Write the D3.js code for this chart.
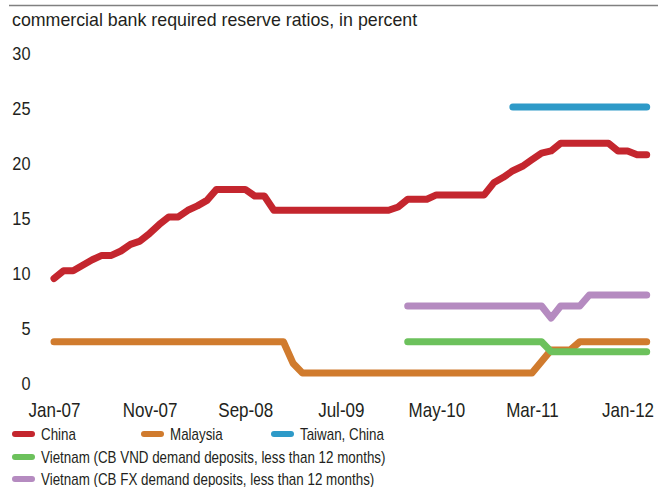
<!DOCTYPE html>
<html>
<head>
<meta charset="utf-8">
<script src="https://cdn.jsdelivr.net/npm/d3@7/dist/d3.min.js"></script>
<style>
  html, body { margin: 0; padding: 0; background: #fff; }
  svg { display: block; }
  .title { font-family: "Liberation Sans", Arial, sans-serif; font-size: 17.8px; fill: #231f20; }
  .narrow { font-family: "Liberation Sans", Arial, sans-serif; fill: #231f20; }
</style>
</head>
<body>
<svg id="chart" width="658" height="487"></svg>
<script>
// Monthly observations, Jan 2007 to Mar 2012
const months = d3.timeMonth.range(new Date(2007, 0, 1), new Date(2012, 3, 1));

const xTickLabels = ["Jan-07", "Nov-07", "Sep-08", "Jul-09", "May-10", "Mar-11", "Jan-12"];
const yTicks = [0, 5, 10, 15, 20, 25, 30];

// Required reserve ratios, percent (null = not in the series)
const china = [
  9.5, 10.2, 10.2, 10.7, 11.2, 11.6, 11.6, 12.0, 12.6, 12.9, 13.6, 14.4,
  15.1, 15.1, 15.7, 16.1, 16.6, 17.6, 17.6, 17.6, 17.6, 17.0, 17.0, 15.7,
  15.7, 15.7, 15.7, 15.7, 15.7, 15.7, 15.7, 15.7, 15.7, 15.7, 15.7, 15.7,
  16.0, 16.7, 16.7, 16.7, 17.1, 17.1, 17.1, 17.1, 17.1, 17.1, 18.2, 18.7,
  19.3, 19.7, 20.3, 20.9, 21.1, 21.8, 21.8, 21.8, 21.8, 21.8, 21.8, 21.1,
  21.1, 20.75, 20.75
];
const malaysia = [
  3.75, 3.75, 3.75, 3.75, 3.75, 3.75, 3.75, 3.75, 3.75, 3.75, 3.75, 3.75,
  3.75, 3.75, 3.75, 3.75, 3.75, 3.75, 3.75, 3.75, 3.75, 3.75, 3.75, 3.75,
  3.75, 1.8, 0.9, 0.9, 0.9, 0.9, 0.9, 0.9, 0.9, 0.9, 0.9, 0.9,
  0.9, 0.9, 0.9, 0.9, 0.9, 0.9, 0.9, 0.9, 0.9, 0.9, 0.9, 0.9,
  0.9, 0.9, 0.9, 1.95, 3.0, 3.0, 3.0, 3.75, 3.75, 3.75, 3.75, 3.75,
  3.75, 3.75, 3.75
];
const taiwan = [
  null, null, null, null, null, null, null, null, null, null, null, null,
  null, null, null, null, null, null, null, null, null, null, null, null,
  null, null, null, null, null, null, null, null, null, null, null, null,
  null, null, null, null, null, null, null, null, null, null, null, null,
  25.1, 25.1, 25.1, 25.1, 25.1, 25.1, 25.1, 25.1, 25.1, 25.1, 25.1, 25.1,
  25.1, 25.1, 25.1
];
const vietnamVND = [
  null, null, null, null, null, null, null, null, null, null, null, null,
  null, null, null, null, null, null, null, null, null, null, null, null,
  null, null, null, null, null, null, null, null, null, null, null, null,
  null, 3.75, 3.75, 3.75, 3.75, 3.75, 3.75, 3.75, 3.75, 3.75, 3.75, 3.75,
  3.75, 3.75, 3.75, 3.75, 2.85, 2.85, 2.85, 2.85, 2.85, 2.85, 2.85, 2.85,
  2.85, 2.85, 2.85
];
const vietnamFX = [
  null, null, null, null, null, null, null, null, null, null, null, null,
  null, null, null, null, null, null, null, null, null, null, null, null,
  null, null, null, null, null, null, null, null, null, null, null, null,
  null, 7.0, 7.0, 7.0, 7.0, 7.0, 7.0, 7.0, 7.0, 7.0, 7.0, 7.0,
  7.0, 7.0, 7.0, 7.0, 5.9, 7.0, 7.0, 7.0, 8.0, 8.0, 8.0, 8.0,
  8.0, 8.0, 8.0
];

const seriesNames = [
  "China", "Malaysia", "Taiwan, China",
  "Vietnam (CB VND demand deposits, less than 12 months)",
  "Vietnam (CB FX demand deposits, less than 12 months)"
];
const seriesColors = ["#c4262e", "#d07b2e", "#2e9ac8", "#6cc15c", "#b58bc0"];
const seriesValues = [china, malaysia, taiwan, vietnamVND, vietnamFX];

const svg = d3.select("#chart");

// Top rule and title
svg.append("line")
  .attr("x1", 9).attr("x2", 658).attr("y1", 5.5).attr("y2", 5.5)
  .attr("stroke", "#808080").attr("stroke-width", 1.5);
svg.append("text").attr("class", "title")
  .attr("x", 12).attr("y", 26)
  .text("commercial bank required reserve ratios, in percent");

// Scales
const x = d3.scaleLinear().domain([0, months.length - 1]).range([54, 646.7]);
const y = d3.scaleLinear().domain([0, 30]).range([383, 53]);

// Condensed lettering: regular sans squeezed horizontally
function condense(sel, size, sx) {
  sel.attr("class", "narrow")
    .attr("font-family", null).attr("fill", null)
    .attr("font-size", size)
    .attr("transform", `scale(${sx},1)`);
}

// Y axis labels (no line, no ticks)
const yAxis = d3.axisLeft(y).tickValues(yTicks).tickSize(0).tickPadding(0);
const gy = svg.append("g").attr("transform", "translate(30.5,0)").call(yAxis);
gy.select(".domain").remove();
gy.selectAll("text").call(condense, 19, 0.86).attr("x", 0).attr("dy", "0.36em");

// X axis labels every 10 months
const tickIdx = xTickLabels.map((_, i) => i * 10);
const xAxis = d3.axisBottom(x).tickValues(tickIdx).tickSize(0).tickPadding(0)
  .tickFormat((d, i) => xTickLabels[i]);
const gx = svg.append("g").attr("transform", "translate(0,403)").call(xAxis);
gx.select(".domain").remove();
gx.selectAll("text").call(condense, 20, 0.85).attr("y", 0).attr("dy", "0.72em");

// Lines
const line = d3.line()
  .defined(d => d != null)
  .x((d, i) => x(i))
  .y(d => y(d));

seriesValues.forEach((vals, k) => {
  svg.append("path")
    .attr("d", line(vals))
    .attr("fill", "none")
    .attr("stroke", seriesColors[k])
    .attr("stroke-width", 7)
    .attr("stroke-linecap", "round")
    .attr("stroke-linejoin", "round");
});

// Legend
const legendPos = [
  { x: 15, y: 434 }, { x: 144, y: 434 }, { x: 274, y: 434 },
  { x: 15, y: 457 }, { x: 15, y: 479 }
];
seriesNames.forEach((name, k) => {
  const p = legendPos[k];
  const g = svg.append("g").attr("transform", `translate(${p.x},${p.y})`);
  g.append("line").attr("x1", 0).attr("x2", 17).attr("y1", 0).attr("y2", 0)
    .attr("stroke", seriesColors[k]).attr("stroke-width", 6).attr("stroke-linecap", "round");
  g.append("g").attr("transform", "translate(26,0)")
    .append("text").call(condense, 16, 0.836).attr("dy", "0.36em").text(name);
});
</script>
</body>
</html>
